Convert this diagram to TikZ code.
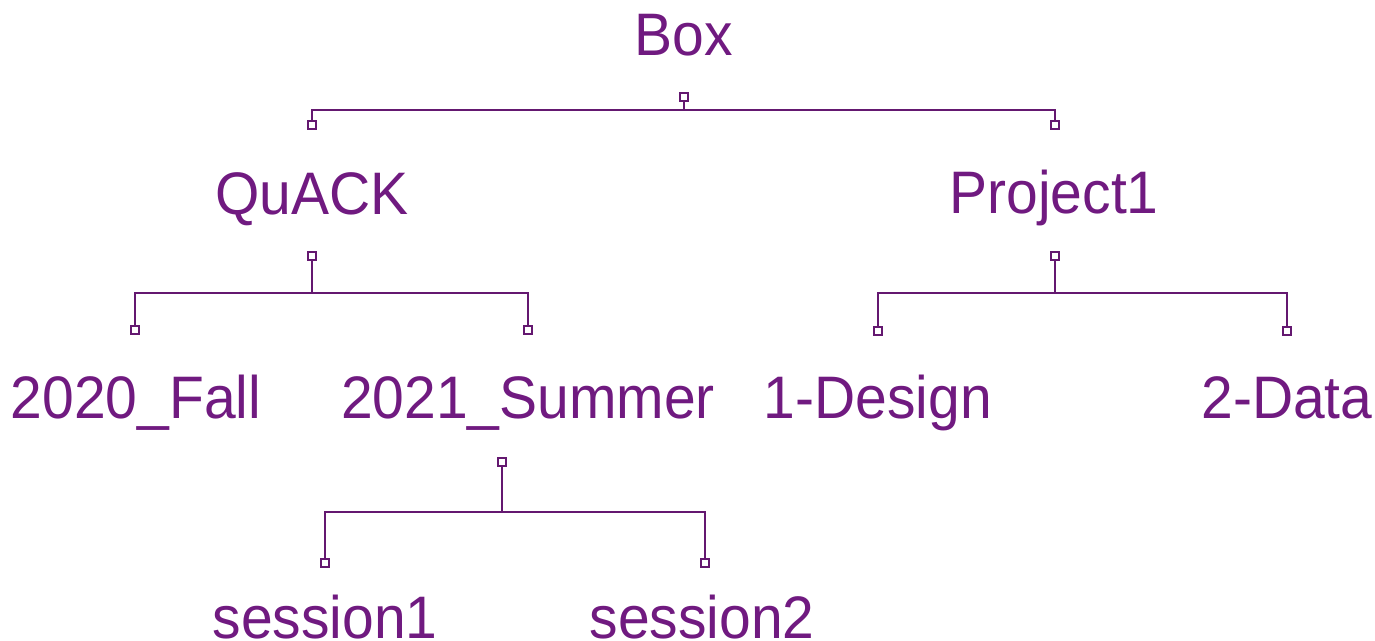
\documentclass[tikz,border=0pt]{standalone}
\usepackage{fontspec}
\setmainfont[FakeStretch=0.95]{Liberation Sans}
\definecolor{txt}{RGB}{112,26,128}
\definecolor{ln}{RGB}{100,24,112}
\begin{document}
\begin{tikzpicture}[x=1pt,y=-1pt,
  lbl/.style={text=txt, font=\fontsize{60}{60}\selectfont, anchor=base, inner sep=0pt},
  port/.style={draw=ln, fill=white, line width=2.2pt, minimum size=8pt, inner sep=0pt, rectangle},
  conn/.style={draw=ln, line width=2.2pt}]
\useasboundingbox (0,0) rectangle (1375,640);
% labels
\node[lbl] (box) at (684,55) {Box};
\node[lbl] (quack) at (312,214) {QuACK};
\node[lbl] (proj) at (1054,213) {Project1};
\node[lbl] (fall) at (136,418) {2020\_Fall};
\node[lbl] (summer) at (528,418) {2021\_Summer};
\node[lbl] (design) at (878,418) {1-Design};
\node[lbl] (data) at (1287,418) {2-Data};
\node[lbl] (s1) at (325,638) {session1};
\node[lbl] (s2) at (702,638) {session2};
% junctions
\coordinate (j1) at (684,110);
\coordinate (j2) at (312,293);
\coordinate (j3) at (1055,293);
\coordinate (j4) at (502,512);
% ports
\node[port] (boxp) at (684,97) {};
\node[port] (quackin) at (312,125) {};
\node[port] (projin) at (1055,125) {};
\node[port] (quackp) at (312,256) {};
\node[port] (fallin) at (135,330) {};
\node[port] (summerin) at (528,330) {};
\node[port] (projp) at (1055,256) {};
\node[port] (designin) at (878,331) {};
\node[port] (datain) at (1287,331) {};
\node[port] (summerp) at (502,462) {};
\node[port] (s1in) at (325,563) {};
\node[port] (s2in) at (705,563) {};
% connectors
\draw[conn] (boxp) -- (j1);
\draw[conn] (quackin) |- (j1) -| (projin);
\draw[conn] (quackp) -- (j2);
\draw[conn] (fallin) |- (j2) -| (summerin);
\draw[conn] (projp) -- (j3);
\draw[conn] (designin) |- (j3) -| (datain);
\draw[conn] (summerp) -- (j4);
\draw[conn] (s1in) |- (j4) -| (s2in);
\end{tikzpicture}
\end{document}
